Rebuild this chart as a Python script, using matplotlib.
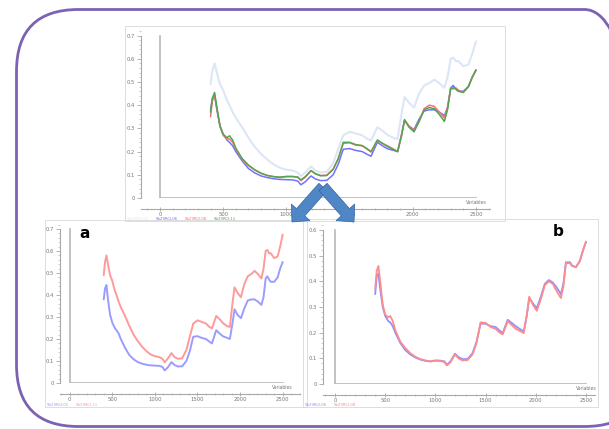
import numpy as np
import matplotlib
matplotlib.use("Agg")
import matplotlib.pyplot as plt
from matplotlib.patches import FancyBboxPatch, Rectangle, FancyArrow
from matplotlib.ticker import MultipleLocator

W, H = 609, 429

# wavelength grid (nm)
wavelength = [400, 415, 432, 450, 475, 500, 530, 550, 575, 600, 650, 700, 750, 800,
              850, 900, 950, 1000, 1050, 1090, 1115, 1150, 1195, 1230, 1270, 1320,
              1370, 1410, 1450, 1500, 1550, 1600, 1640, 1670, 1720, 1760, 1800, 1850,
              1880, 1910, 1935, 1970, 2010, 2050, 2090, 2130, 2170, 2210, 2250, 2275,
              2300, 2320, 2340, 2360, 2400, 2440, 2470, 2500]

# top panel: four samples
spec_blue = [0.38, 0.43, 0.445, 0.38, 0.31, 0.275, 0.25, 0.24, 0.225, 0.2, 0.16, 0.127,
             0.108, 0.095, 0.088, 0.083, 0.08, 0.079, 0.078, 0.073, 0.057, 0.07, 0.095,
             0.082, 0.075, 0.076, 0.1, 0.145, 0.21, 0.213, 0.205, 0.2, 0.188, 0.18, 0.24,
             0.225, 0.212, 0.205, 0.2, 0.27, 0.335, 0.31, 0.295, 0.34, 0.375, 0.38, 0.38,
             0.37, 0.355, 0.39, 0.475, 0.485, 0.47, 0.46, 0.46, 0.48, 0.52, 0.55]
spec_red = [0.35, 0.42, 0.44, 0.39, 0.31, 0.27, 0.255, 0.255, 0.24, 0.21, 0.168, 0.14,
            0.12, 0.106, 0.097, 0.092, 0.088, 0.092, 0.092, 0.09, 0.075, 0.09, 0.118,
            0.105, 0.097, 0.098, 0.125, 0.17, 0.235, 0.238, 0.228, 0.225, 0.21, 0.198,
            0.248, 0.235, 0.225, 0.21, 0.2, 0.27, 0.335, 0.31, 0.29, 0.33, 0.385, 0.4,
            0.395, 0.37, 0.345, 0.39, 0.475, 0.47, 0.475, 0.465, 0.455, 0.48, 0.52, 0.55]
spec_green = [0.37, 0.43, 0.455, 0.39, 0.31, 0.275, 0.26, 0.268, 0.25, 0.215, 0.17, 0.142,
              0.122, 0.107, 0.097, 0.092, 0.09, 0.093, 0.093, 0.09, 0.078, 0.092, 0.118,
              0.104, 0.096, 0.097, 0.123, 0.168, 0.24, 0.24, 0.23, 0.226, 0.212, 0.2,
              0.25, 0.236, 0.222, 0.208, 0.2, 0.265, 0.338, 0.305, 0.285, 0.33, 0.38, 0.39,
              0.385, 0.36, 0.33, 0.38, 0.47, 0.475, 0.47, 0.46, 0.455, 0.48, 0.52, 0.553]
spec_pale = [0.49, 0.55, 0.58, 0.54, 0.49, 0.465, 0.42, 0.4, 0.37, 0.345, 0.305, 0.26,
             0.22, 0.19, 0.165, 0.145, 0.13, 0.122, 0.118, 0.11, 0.094, 0.11, 0.136,
             0.118, 0.11, 0.112, 0.15, 0.21, 0.27, 0.285, 0.278, 0.27, 0.255, 0.248,
             0.305, 0.29, 0.272, 0.258, 0.255, 0.36, 0.435, 0.41, 0.39, 0.45, 0.485,
             0.495, 0.51, 0.495, 0.475, 0.52, 0.6, 0.605, 0.59, 0.59, 0.568, 0.575, 0.62,
             0.675]

# panel b: two spectra after correction
b_blue = [0.35, 0.42, 0.43, 0.37, 0.3, 0.265, 0.245, 0.24, 0.225, 0.2, 0.16, 0.132,
          0.115, 0.103, 0.095, 0.09, 0.088, 0.092, 0.091, 0.088, 0.075, 0.088, 0.118,
          0.105, 0.097, 0.097, 0.12, 0.165, 0.235, 0.235, 0.225, 0.222, 0.208, 0.198,
          0.25, 0.238, 0.225, 0.212, 0.205, 0.265, 0.335, 0.315, 0.295, 0.34, 0.39,
          0.405, 0.395, 0.375, 0.35, 0.39, 0.475, 0.47, 0.475, 0.462, 0.455, 0.48, 0.52,
          0.553]
b_red = [0.37, 0.44, 0.46, 0.4, 0.31, 0.27, 0.26, 0.265, 0.245, 0.21, 0.165, 0.14, 0.12,
         0.106, 0.097, 0.092, 0.088, 0.09, 0.09, 0.085, 0.072, 0.085, 0.115, 0.1, 0.092,
         0.093, 0.115, 0.16, 0.24, 0.238, 0.222, 0.215, 0.2, 0.193, 0.245, 0.23, 0.215,
         0.205, 0.198, 0.27, 0.34, 0.31, 0.285, 0.33, 0.385, 0.4, 0.39, 0.36, 0.335, 0.38,
         0.47, 0.475, 0.47, 0.46, 0.455, 0.48, 0.52, 0.555]

top_names = ["Sb29RCL01", "Sb29RCL06", "Sb29RCL08", "Sb29RCL11"]
a_names = ["Sb29RCL01", "Sb29RCL11"]
b_names = ["Sb29RCL06", "Sb29RCL08"]

GREY = "#a8a8a8"
TXT = "#777777"


def px_rect(x0, y0, x1, y1):
    return [x0 / W, 1 - y1 / H, (x1 - x0) / W, (y1 - y0) / H]


def spectra_panel(fig, frame, rect, xlim, ylim, ytop, series, colors, widths, names):
    # light grey frame around the panel
    fx0, fy0, fx1, fy1 = frame
    fig.add_artist(Rectangle((fx0 / W, 1 - fy1 / H), (fx1 - fx0) / W, (fy1 - fy0) / H,
                             transform=fig.transFigure, fill=False, ec="#d8d8d8", lw=0.6))
    ax = fig.add_axes(px_rect(*rect))
    ax.patch.set_alpha(0)
    for ys, c, lw in zip(series, colors, widths):
        ax.plot(wavelength, ys, color=c, lw=lw, solid_capstyle="round")
    ax.set_xlim(xlim)
    ax.set_ylim(ylim)
    for s in ["top", "right"]:
        ax.spines[s].set_visible(False)
    for s in ["left", "bottom"]:
        ax.spines[s].set_color(GREY)
        ax.spines[s].set_linewidth(0.8)
    ax.spines["left"].set_bounds(0, ytop)
    ax.spines["bottom"].set_position(("outward", 8))
    yt = np.round(np.arange(0, ytop + 0.001, 0.1), 1)
    ax.set_yticks(yt)
    ax.set_yticklabels(["0"] + [f"{v:.1f}" for v in yt[1:]])
    ax.set_xticks([0, 500, 1000, 1500, 2000, 2500])
    ax.yaxis.set_minor_locator(MultipleLocator(0.02))
    ax.xaxis.set_minor_locator(MultipleLocator(100))
    ax.tick_params(axis="both", which="major", labelsize=3.8, colors=GREY, labelcolor=TXT,
                   length=3, width=0.6, pad=1.5)
    ax.tick_params(axis="y", which="minor", length=1.5, width=0.4, colors=GREY)
    ax.tick_params(axis="x", which="both", direction="inout", pad=0.5)
    ax.tick_params(axis="x", which="minor", length=2, width=0.4, colors=GREY)
    # inner L-shaped axis
    ax.plot([0, 0], [0, ytop], color="#b8b8b8", lw=1.2, zorder=1)
    ax.plot([0, 2500], [0, 0], color="#b8b8b8", lw=1.2, zorder=1)
    ax.annotate("Variables", xy=(2500, 0), xytext=(0, -1.2), textcoords="offset points",
                ha="center", va="top", fontsize=3.3, color=TXT, annotation_clip=False)
    # tiny coloured sample names under the panel
    lx = fx0 + 2
    for n, c in zip(names, colors):
        fig.text(lx / W, 1 - (fy1 - 2.5) / H, n, color=c, fontsize=2.8, va="center")
        lx += 29
    return ax


fig = plt.figure(figsize=(W / 100, H / 100), dpi=100)

# rounded purple border, its right side runs off the picture
fig.add_artist(FancyBboxPatch((0.165, 0.025), 6.3, 4.17,
                              boxstyle="round,pad=0,rounding_size=0.62",
                              transform=fig.dpi_scale_trans, fill=False,
                              ec="#7b62b4", lw=2.0, zorder=0))

spectra_panel(fig, (125, 26, 505, 221), (141, 30, 490, 198), (-150, 2611), (0, 0.724), 0.7,
              [spec_pale, spec_blue, spec_red, spec_green],
              ["#dce6f7", "#7272ff", "#ff7070", "#4fa84f"], [1.5, 1.1, 1.1, 1.1],
              top_names)
ax_a = spectra_panel(fig, (45, 220, 307, 407), (60, 222, 300, 383), (-113, 2703),
                     (0, 0.732), 0.7, [spec_blue, spec_pale],
                     ["#9c9cff", "#ff9a9a"], [1.4, 1.4], a_names)
ax_b = spectra_panel(fig, (303, 219, 598, 407), (323, 222, 595, 384), (-120, 2590),
                     (0, 0.631), 0.6, [b_blue, b_red],
                     ["#8f8fff", "#ff8c8c"], [1.3, 1.3], b_names)

fig.text(85 / W, 1 - 234 / H, "a", fontsize=11, fontweight="bold", ha="center", va="center")
fig.text(558 / W, 1 - 232 / H, "b", fontsize=11, fontweight="bold", ha="center", va="center")

# blue double arrow between the panels
for tip in [(2.92, 2.07), (3.54, 2.07)]:
    fig.add_artist(FancyArrow(3.23, 2.42, tip[0] - 3.23, tip[1] - 2.42, width=0.11,
                              head_width=0.25, head_length=0.13, length_includes_head=True,
                              transform=fig.dpi_scale_trans, fc="#4f86c6", ec="#3565a0",
                              lw=0.5, zorder=10))

fig.savefig("out.png", dpi=100)
